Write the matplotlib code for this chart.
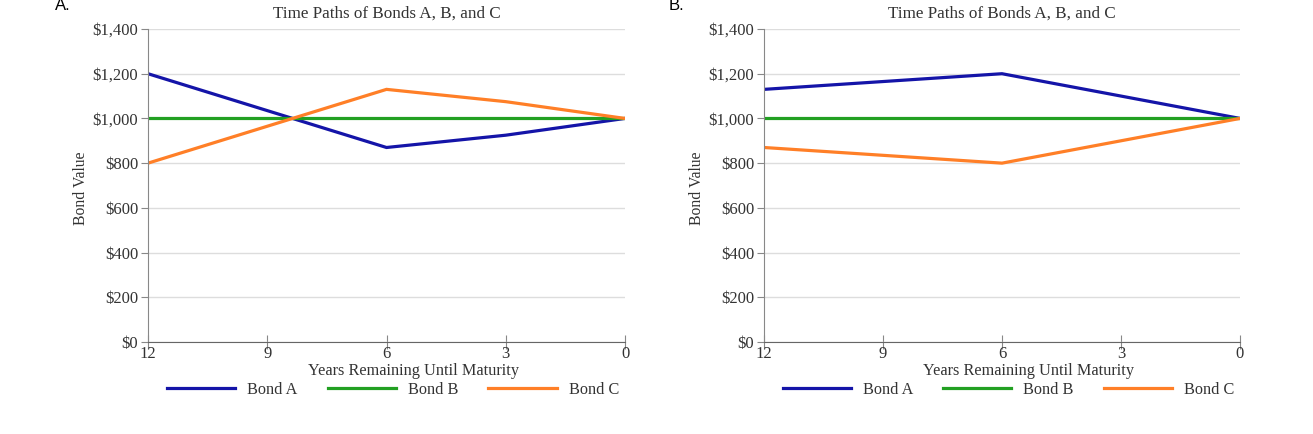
import matplotlib.pyplot as plt
from matplotlib.ticker import FuncFormatter

years = [12, 9, 6, 3, 0]

# Panel A
a_bond_a = [1200, 1035, 870, 925, 1000]
a_bond_b = [1000, 1000, 1000, 1000, 1000]
a_bond_c = [800, 965, 1130, 1075, 1000]

# Panel B
b_bond_a = [1130, 1165, 1200, 1100, 1000]
b_bond_b = [1000, 1000, 1000, 1000, 1000]
b_bond_c = [870, 835, 800, 900, 1000]

yticks = [0, 200, 400, 600, 800, 1000, 1200, 1400]
names = ["Bond A", "Bond B", "Bond C"]
colors = ["#1414a8", "#22a022", "#ff7f27"]

plt.rcParams["font.family"] = ["Liberation Serif", "DejaVu Serif"]
txt = "#333333"

fig = plt.figure(figsize=(13.13, 4.34), dpi=100)
ax_a = fig.add_axes([148 / 1313, 1 - 342 / 434, 477 / 1313, 313 / 434])
ax_b = fig.add_axes([764 / 1313, 1 - 342 / 434, 476 / 1313, 313 / 434])


def draw(ax, series, letter, lx):
    for vals, name, c in zip(series, names, colors):
        ax.plot(years, vals, color=c, lw=2.3, label=name, solid_joinstyle="miter")
    ax.set_xlim(12, 0)
    ax.set_ylim(0, 1400)
    ax.set_xticks(years)
    ax.set_yticks(yticks)
    ax.yaxis.set_major_formatter(FuncFormatter(lambda v, p: "${:,.0f}".format(v)))
    ax.grid(axis="y", color="#dddddd", lw=1)
    ax.set_axisbelow(True)
    for s in ["top", "right"]:
        ax.spines[s].set_visible(False)
    ax.spines["left"].set_color("#888888")
    ax.spines["bottom"].set_color("#666666")
    ax.tick_params(axis="y", direction="out", length=5, color="#888888",
                   labelsize=12, labelcolor=txt, pad=2)
    ax.tick_params(axis="x", direction="inout", length=10, color="#888888",
                   labelsize=12, labelcolor=txt, pad=-2)
    ax.set_title("Time Paths of Bonds A, B, and C", fontsize=12.3, color=txt, pad=8)
    ax.set_xlabel("Years Remaining Until Maturity", fontsize=11.7, color=txt)
    ax.xaxis.set_label_coords(265 / 477, -21 / 313)
    ax.set_ylabel("Bond Value", fontsize=11.3, color=txt)
    ax.yaxis.set_label_coords(-59 / 477, 0.49)
    ax.legend(loc="center", bbox_to_anchor=(245 / 477, -48 / 313), ncol=3, frameon=False,
              fontsize=11.7, handlelength=4.2, handletextpad=0.74, columnspacing=1.85,
              labelcolor=txt)
    fig.text(lx, 1 - 5 / 434, letter, fontsize=12, family="Liberation Sans", color="black",
             ha="left", va="center")


draw(ax_a, [a_bond_a, a_bond_b, a_bond_c], "A.", 55 / 1313)
draw(ax_b, [b_bond_a, b_bond_b, b_bond_c], "B.", 669 / 1313)

fig.savefig("out.png", dpi=100)
